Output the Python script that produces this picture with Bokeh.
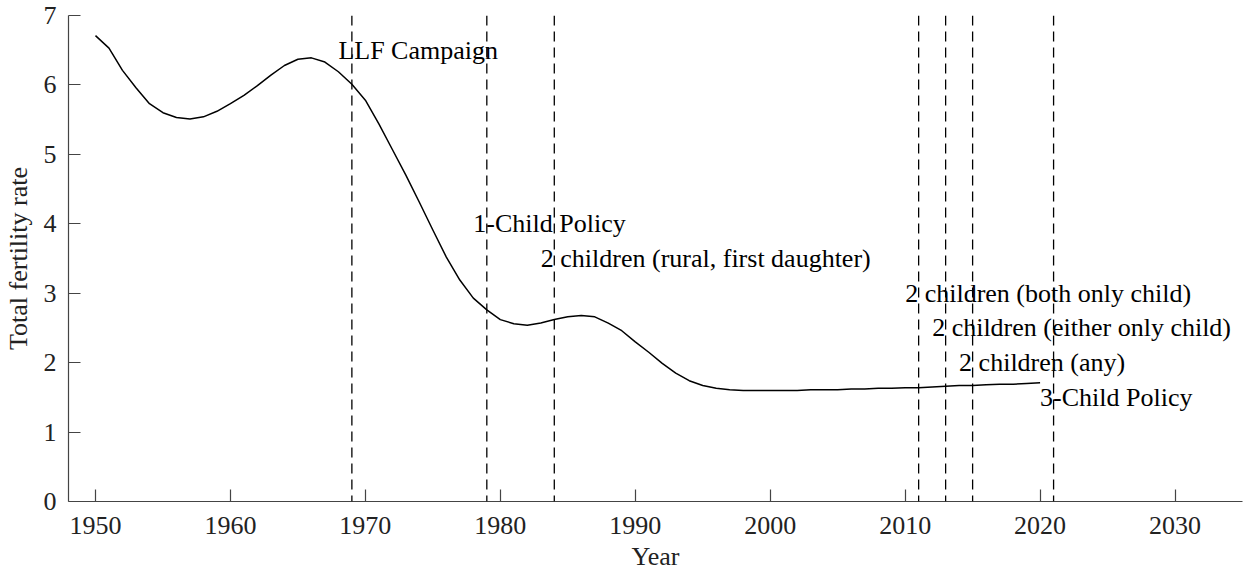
from bokeh.plotting import figure
from bokeh.models import Span, FixedTicker, ColumnDataSource, Range1d
from bokeh.embed import file_html
from bokeh.resources import INLINE
from bokeh.core.properties import value

years = list(range(1950, 2021))
tfr = [6.71, 6.53, 6.21, 5.96, 5.73, 5.60, 5.53, 5.51, 5.54, 5.62,
       5.73, 5.85, 5.99, 6.14, 6.28, 6.37, 6.39, 6.33, 6.19, 6.01,
       5.78, 5.44, 5.07, 4.70, 4.31, 3.91, 3.52, 3.19, 2.93, 2.76,
       2.62, 2.56, 2.54, 2.57, 2.62, 2.66, 2.68, 2.66, 2.57, 2.46,
       2.30, 2.15, 1.99, 1.85, 1.74, 1.67, 1.63, 1.61, 1.60, 1.60,
       1.60, 1.60, 1.60, 1.61, 1.61, 1.61, 1.62, 1.62, 1.63, 1.63,
       1.64, 1.64, 1.65, 1.66, 1.67, 1.67, 1.68, 1.69, 1.69, 1.70,
       1.71]

event_years = [1969, 1979, 1984, 2011, 2013, 2015, 2021]
event_labels = ["LLF Campaign", "1-Child Policy", "2 children (rural, first daughter)",
                "2 children (both only child)", "2 children (either only child)",
                "2 children (any)", "3-Child Policy"]
label_y = [6.5, 4.0, 3.5, 3.0, 2.5, 2.0, 1.5]

x_ticks = [1950, 1960, 1970, 1980, 1990, 2000, 2010, 2020, 2030]
y_ticks = [0, 1, 2, 3, 4, 5, 6, 7]

FONT = "Liberation Serif"

p = figure(width=1244, height=574, output_backend="svg", toolbar_location=None,
           x_range=Range1d(1948, 2035), y_range=Range1d(0, 7),
           min_border_left=66, min_border_right=2, min_border_top=15, min_border_bottom=73)
p.outline_line_color = None
p.xgrid.visible = False
p.ygrid.visible = False

p.line(years, tfr, line_color="black", line_width=1.5)

for yr in event_years:
    p.add_layout(Span(location=yr, dimension="height", line_color="black",
                      line_width=1.3, line_dash="10 6"))

src = ColumnDataSource(dict(x=event_years, y=label_y, t=event_labels))
p.text(x="x", y="y", text="t", source=src, x_offset=-13.5, text_align="left",
       text_baseline="middle", text_font=value(FONT), text_font_size="26px",
       text_color="black")

for ax in (p.xaxis[0], p.yaxis[0]):
    ax.axis_line_color = "#444444"
    ax.axis_line_width = 1.2
    ax.major_tick_line_color = "#444444"
    ax.major_tick_line_width = 1.2
    ax.major_tick_in = 12
    ax.major_tick_out = 0
    ax.minor_tick_line_color = None
    ax.major_label_text_font = FONT
    ax.major_label_text_font_size = "26px"
    ax.major_label_text_color = "#222222"
    ax.axis_label_text_font = FONT
    ax.axis_label_text_font_size = "26px"
    ax.axis_label_text_font_style = "normal"
    ax.axis_label_text_color = "#222222"

p.xaxis.major_label_standoff = 15
p.yaxis.major_label_standoff = 12
p.xaxis.ticker = FixedTicker(ticks=x_ticks)
p.yaxis.ticker = FixedTicker(ticks=y_ticks)
p.xaxis.axis_label = "Year"
p.yaxis.axis_label = "Total fertility rate"
p.xaxis.axis_label_standoff = 5
p.yaxis.axis_label_standoff = 8

open("out.html", "w").write(file_html(p, INLINE))
